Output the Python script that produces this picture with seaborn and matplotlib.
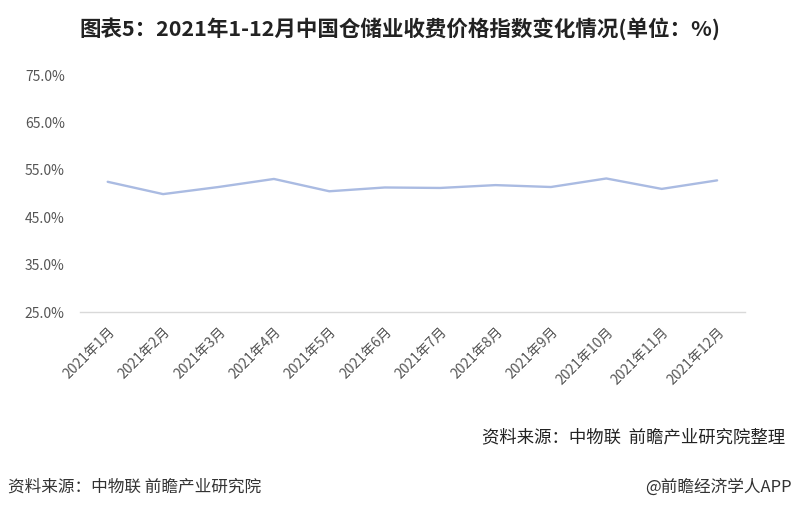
import matplotlib
matplotlib.use("Agg")
import matplotlib.pyplot as plt
import seaborn as sns
import pandas as pd
from matplotlib.ticker import FuncFormatter

months = ["2021年1月", "2021年2月", "2021年3月", "2021年4月", "2021年5月", "2021年6月",
          "2021年7月", "2021年8月", "2021年9月", "2021年10月", "2021年11月", "2021年12月"]
values = [52.5, 49.9, 51.4, 53.1, 50.5, 51.3, 51.2, 51.8, 51.4, 53.2, 51.0, 52.8]
yticks = [25, 35, 45, 55, 65, 75]

title = "图表5：2021年1-12月中国仓储业收费价格指数变化情况(单位：%)"
source_note = "资料来源：中物联  前瞻产业研究院整理"
footer_left = "资料来源：中物联 前瞻产业研究院"
footer_right = "@前瞻经济学人APP"

sns.set_theme(style="white")
plt.rcParams['font.family'] = ['Noto Sans CJK SC', 'DejaVu Sans']
plt.rcParams['axes.unicode_minus'] = False

df = pd.DataFrame({"month": months, "value": values})

fig = plt.figure(figsize=(8, 5.15), dpi=100)
ax = fig.add_axes([0.10, 0.394, 0.831, 0.460])

sns.lineplot(data=df, x="month", y="value", ax=ax, color="#aabbe2", linewidth=1.7, sort=False)

ax.set_xlim(-0.5, len(months) - 0.5)
ax.set_ylim(25, 75)
ax.set_yticks(yticks)
ax.yaxis.set_major_formatter(FuncFormatter(lambda v, p: f"{v:.1f}%"))
ax.set_xlabel("")
ax.set_ylabel("")
for s in ["top", "right", "left"]:
    ax.spines[s].set_visible(False)
ax.spines["bottom"].set_color("#d9d9d9")
ax.spines["bottom"].set_linewidth(1.0)
ax.tick_params(axis="y", length=0, pad=11, labelsize=10, labelcolor="#555555")
ax.tick_params(axis="x", length=0, pad=9, labelsize=10, labelcolor="#555555")
for lab in ax.get_xticklabels():
    lab.set_rotation(45)
    lab.set_ha("right")
    lab.set_rotation_mode("anchor")

fig.text(0.5, 0.945, title, ha="center", va="center", fontsize=15.5, fontweight="bold", color="#222222")
fig.text(0.981, 0.151, source_note, ha="right", va="center", fontsize=12.5, color="#222222", style="italic")
fig.text(0.01, 0.054, footer_left, ha="left", va="center", fontsize=12, color="#333333")
fig.text(0.99, 0.054, footer_right, ha="right", va="center", fontsize=12, color="#333333")

fig.savefig("out.png", dpi=100, facecolor="white")
